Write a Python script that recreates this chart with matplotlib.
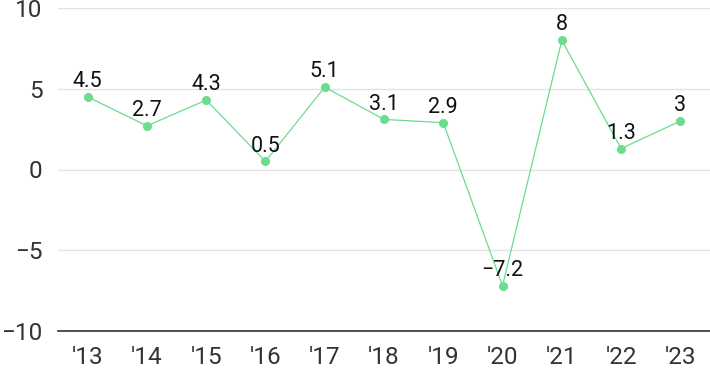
import matplotlib.pyplot as plt

# podatki
leta = ["'13", "'14", "'15", "'16", "'17", "'18", "'19", "'20", "'21", "'22", "'23"]
vrednosti = [4.5, 2.7, 4.3, 0.5, 5.1, 3.1, 2.9, -7.2, 8, 1.3, 3]
y_ticks = [-10, -5, 0, 5, 10]

plt.rcParams['font.family'] = ['Roboto', 'DejaVu Sans']

fig = plt.figure(figsize=(7.1, 3.71), dpi=100)
ax = fig.add_axes([58 / 710, 40 / 371, 1 - 58 / 710, 323 / 371])

x = list(range(len(leta)))
ax.plot(x, vrednosti, color='#6cdc8e', linewidth=0.9, marker='o', markersize=5.5, zorder=3)

for xi, v in zip(x, vrednosti):
    ax.annotate(f'{v:g}'.replace('-', '\u2212'), (xi, v), xytext=(0, 3.5), textcoords='offset points',
                ha='center', va='bottom', fontsize=15.5, color='#111111')

ax.set_xlim(-0.5, 10.5)
ax.set_ylim(-10, 10)
ax.set_xticks(x)
ax.set_xticklabels(leta)
ax.set_yticks(y_ticks)
ax.set_yticklabels(['\u221210', '\u22125', '0', '5', '10'])

ax.grid(axis='y', color='#e3e3e3', linewidth=1)
ax.set_axisbelow(True)
for s in ['top', 'right', 'left']:
    ax.spines[s].set_visible(False)
ax.spines['bottom'].set_color('#333333')
ax.spines['bottom'].set_linewidth(1.2)
ax.tick_params(axis='both', length=0, labelsize=17.5, labelcolor='#333333')
ax.tick_params(axis='y', pad=11)
ax.tick_params(axis='x', pad=11)

fig.savefig('out.png', dpi=100)
